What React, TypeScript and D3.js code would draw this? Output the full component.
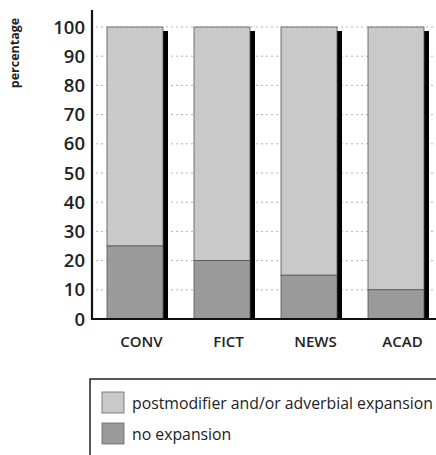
import React from "react";
import * as d3 from "d3";

const categories = ["CONV", "FICT", "NEWS", "ACAD"];
const noExpansion = [25, 20, 15, 10];
const postmodifier = [75, 80, 85, 90];
const yTicks = [0, 10, 20, 30, 40, 50, 60, 70, 80, 90, 100];
const legendLabels = ["postmodifier and/or adverbial expansion", "no expansion"];
const yAxisTitle = "percentage";

const W = 436;
const H = 455;
const font = "'Open Sans', 'DejaVu Sans', sans-serif";
const lightFill = "#c9c9c9";
const darkFill = "#9a9a9a";

export default function App() {
  const axisX = 92;
  const baseY = 319;
  const y = d3.scaleLinear().domain([0, 100]).range([baseY, 27]);
  const x = d3.scaleBand<string>().domain(categories).range([107, 107 + 87 * 4]).paddingInner(0).paddingOuter(0);
  const barW = 56;
  const shadowW = 5;

  return (
    <svg width={W} height={H} style={{ position: "absolute", left: 0, top: 0, background: "#fff" }}>
      {yTicks.filter((t) => t > 0).map((t) => (
        <line key={"g" + t} x1={axisX + 4} x2={W} y1={y(t)} y2={y(t)} stroke="#b5b5b5" strokeWidth={1} strokeDasharray="2,3" />
      ))}
      {categories.map((c, i) => {
        const x0 = x(c)!;
        const stack = d3.stack<number>().keys(["a", "b"]).value((_d, k) => (k === "a" ? noExpansion[i] : postmodifier[i]))([0]);
        const s0 = stack[0][0];
        const s1 = stack[1][0];
        return (
          <g key={c}>
            <rect x={x0 + barW} y={y(s1[1]) + 4} width={shadowW} height={baseY - y(s1[1]) - 4} fill="#000" />
            <rect x={x0} y={y(s1[1])} width={barW} height={y(s1[0]) - y(s1[1])} fill={lightFill} stroke="#555" strokeWidth={0.8} />
            <rect x={x0} y={y(s0[1])} width={barW} height={y(s0[0]) - y(s0[1])} fill={darkFill} stroke="#555" strokeWidth={0.8} />
            <text x={x0 + (barW + shadowW) / 2 + 4} y={347} textAnchor="middle" fontFamily={font} fontSize={15} fontWeight={600} fill="#222">{c}</text>
          </g>
        );
      })}
      <line x1={axisX} x2={axisX} y1={10} y2={baseY + 1} stroke="#111" strokeWidth={2.2} />
      <line x1={axisX - 1} x2={W} y1={baseY} y2={baseY} stroke="#111" strokeWidth={2.2} />
      {yTicks.map((t) => (
        <text key={"t" + t} x={85} y={y(t) + 6.5} textAnchor="end" fontFamily={font} fontSize={18.5} fontWeight={600} fill="#222">{t}</text>
      ))}
      <text transform={`translate(19,53) rotate(-90)`} textAnchor="middle" fontFamily={font} fontSize={12.5} fontWeight={700} fill="#222">{yAxisTitle}</text>
      <rect x={90} y={379} width={W} height={H} fill="none" stroke="#222" strokeWidth={1.5} />
      {legendLabels.map((l, i) => (
        <g key={l}>
          <rect x={102} y={392 + i * 31} width={22} height={21} fill={i === 0 ? lightFill : darkFill} stroke="#666" strokeWidth={0.8} />
          <text x={132} y={409 + i * 31} fontFamily={font} fontSize={15.8} fontWeight={500} fill="#222">{l}</text>
        </g>
      ))}
    </svg>
  );
}
